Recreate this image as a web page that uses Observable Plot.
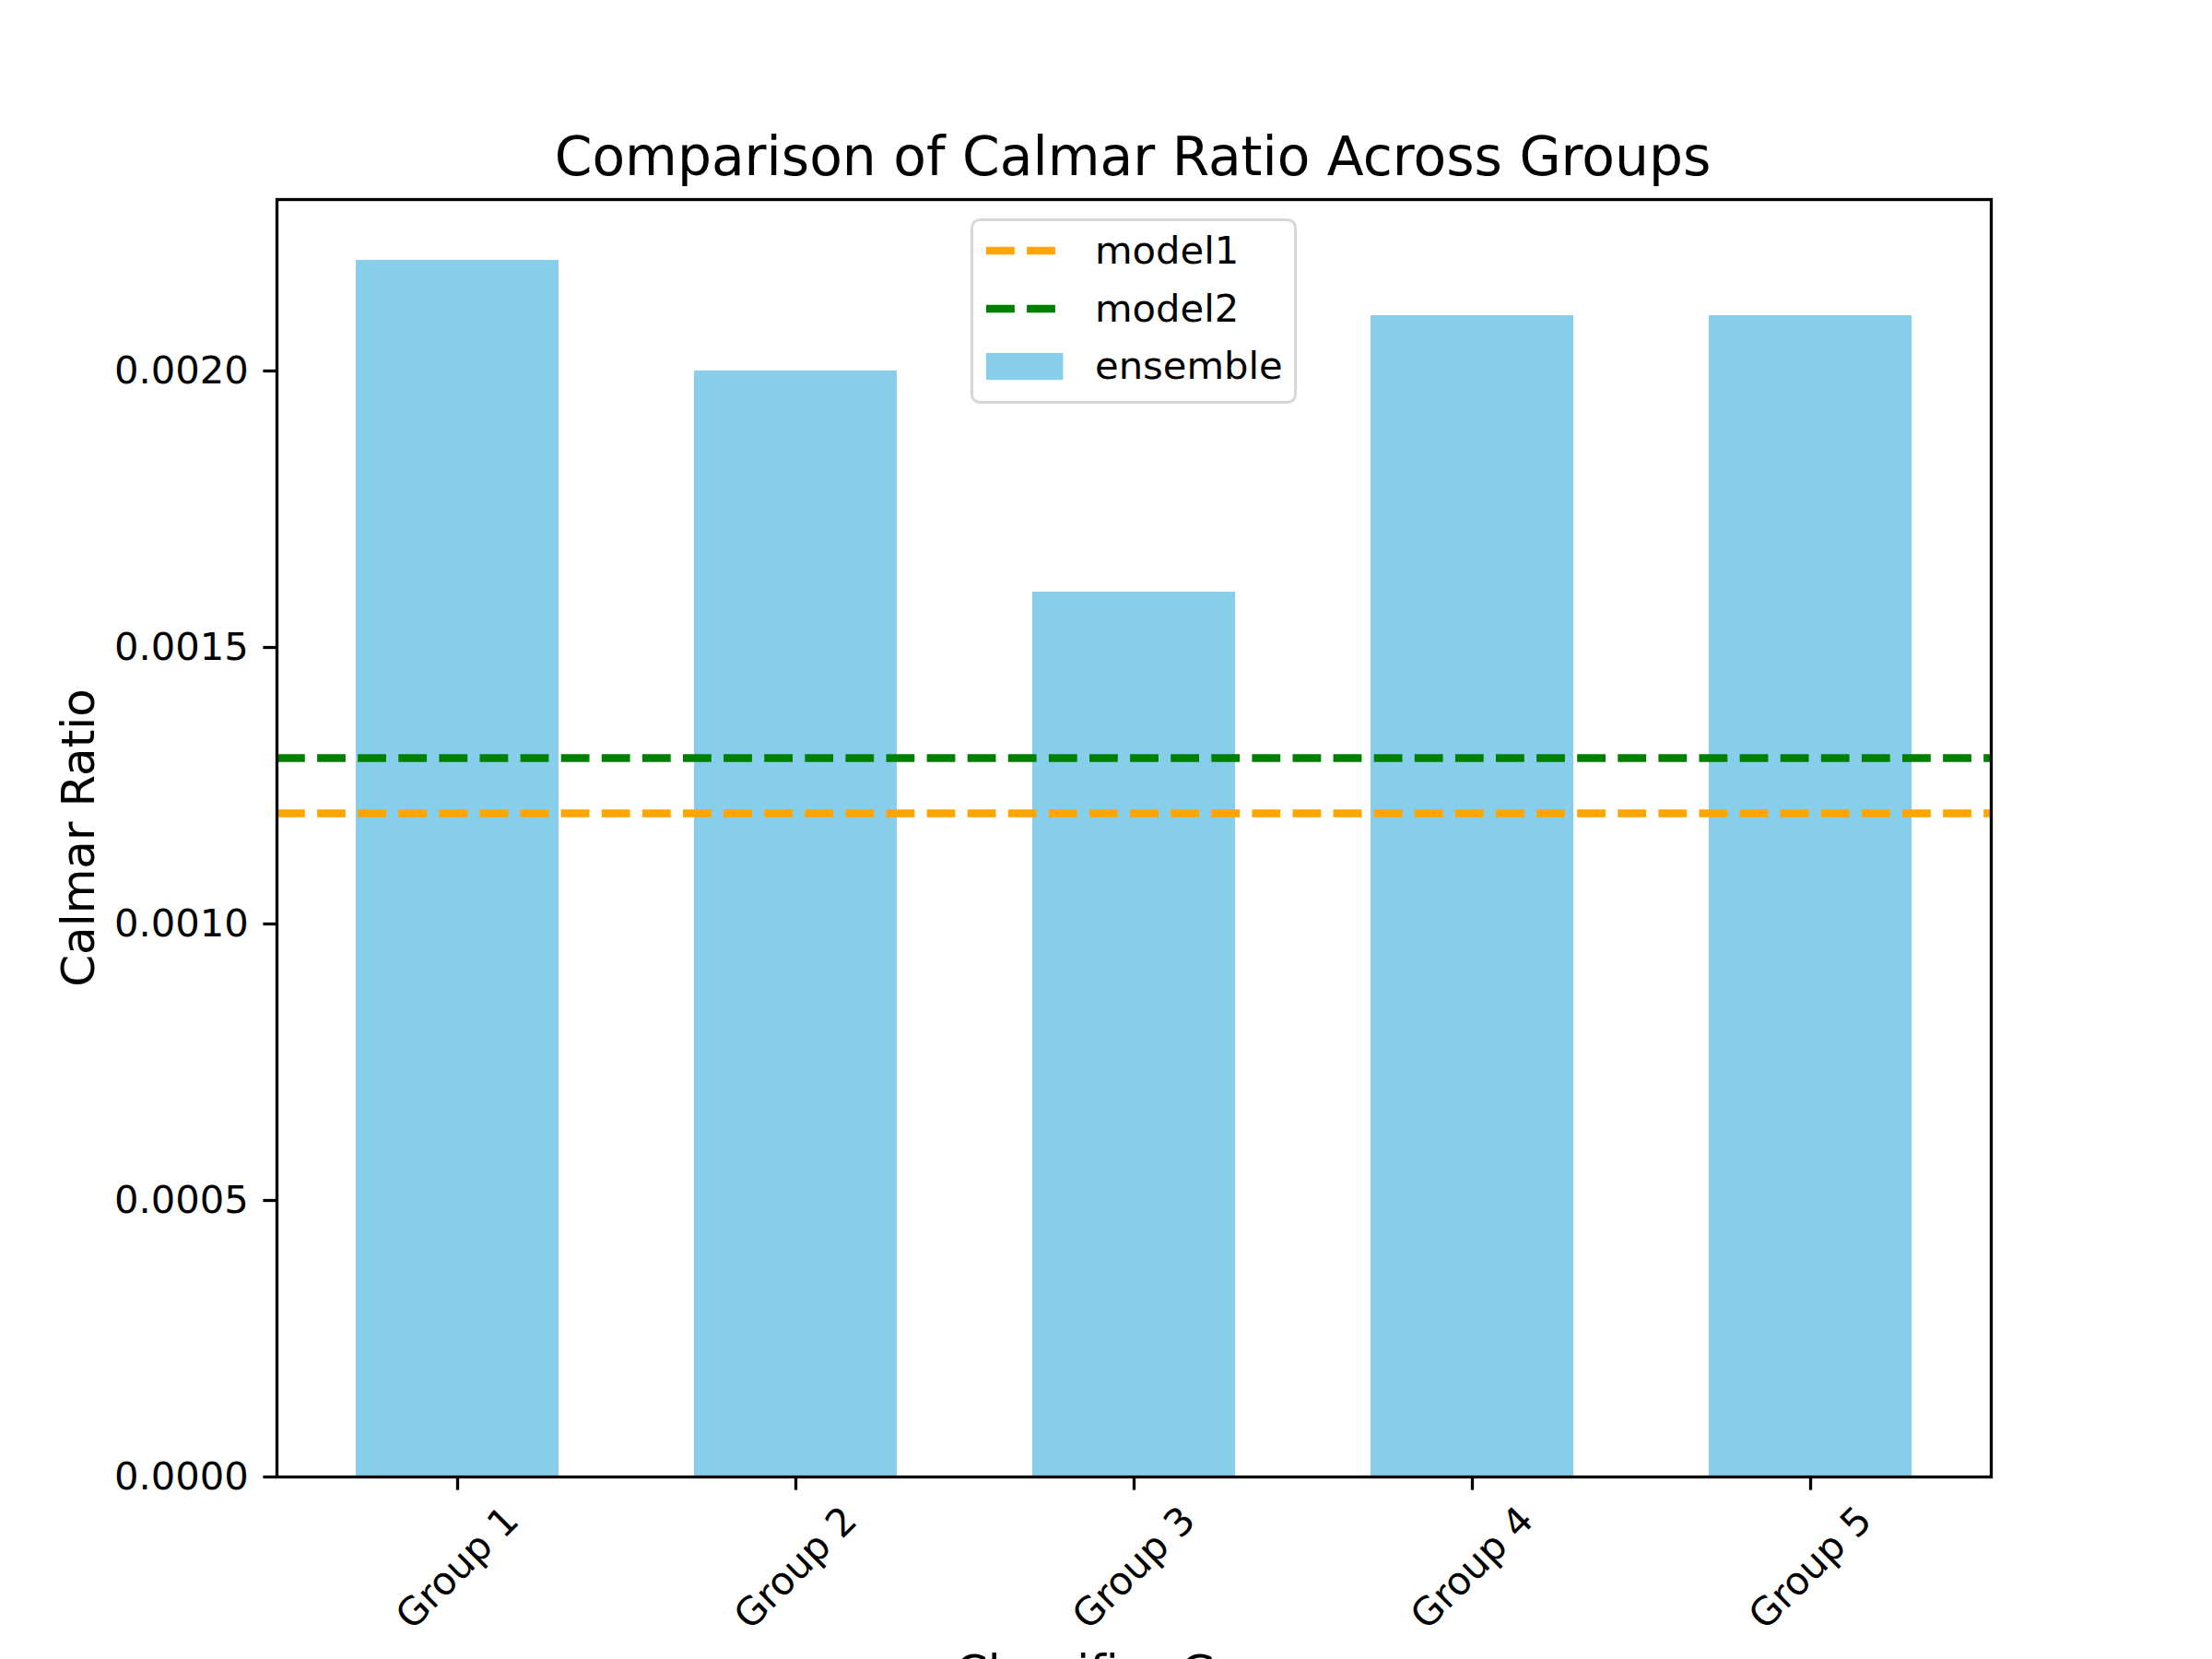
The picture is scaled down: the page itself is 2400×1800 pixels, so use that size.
<!DOCTYPE html>
<html>
<head>
<meta charset="utf-8">
<script src="https://cdn.jsdelivr.net/npm/d3@7"></script>
<script src="https://cdn.jsdelivr.net/npm/@observablehq/plot@0.6"></script>
<style>
  html, body { margin: 0; padding: 0; background: white; }
  #wrap { position: relative; width: 2400px; height: 1800px; overflow: hidden; background: white; font-family: "DejaVu Sans", sans-serif; color: black; }
  #wrap svg { position: absolute; left: 0; top: 0; }
  .lbl { position: absolute; white-space: nowrap; line-height: 1; }
</style>
</head>
<body>
<div id="wrap"></div>
<script>
// ---- data ----
const groups = ["Group 1", "Group 2", "Group 3", "Group 4", "Group 5"];
const ensemble = [0.0022, 0.0020, 0.0016, 0.0021, 0.0021];
const model1 = 0.0012;
const model2 = 0.0013;
const yTicks = [0, 0.0005, 0.0010, 0.0015, 0.0020];
const titleText = "Comparison of Calmar Ratio Across Groups";
const xLabel = "Classifier Groups";
const yLabel = "Calmar Ratio";
const legendItems = [
  {name: "model1", kind: "line", color: "#FFA500"},
  {name: "model2", kind: "line", color: "#008000"},
  {name: "ensemble", kind: "patch", color: "#87CEEB"}
];

const table = groups.map((g, i) => ({group: g, value: ensemble[i]}));
const DASH = "30.8,13.3";

const chart = Plot.plot({
  width: 2400,
  height: 1800,
  marginLeft: 300,
  marginRight: 240,
  marginTop: 216,
  marginBottom: 198,
  style: {fontFamily: "DejaVu Sans", fontSize: "41.7px", background: "white", color: "black"},
  x: {type: "band", domain: groups, paddingInner: 0.4, paddingOuter: 0.23},
  y: {domain: [0, 0.00231], nice: false},
  marks: [
    Plot.barY(table, {x: "group", y: "value", fill: "#87CEEB"}),
    Plot.ruleY([model2], {stroke: "#008000", strokeWidth: 8.3, strokeDasharray: DASH}),
    Plot.ruleY([model1], {stroke: "#FFA500", strokeWidth: 8.3, strokeDasharray: DASH}),
    Plot.axisY(yTicks, {tickSize: 14.6, tickPadding: 16, tickFormat: d3.format(".4f"), label: null, strokeWidth: 3.3, fontSize: 41.7}),
    Plot.axisX({tickSize: 14.6, tickFormat: () => "", label: null, strokeWidth: 3.3}),
    Plot.text(groups, {x: d => d, text: d => d, frameAnchor: "bottom", dy: 99, rotate: -45, textAnchor: "middle", lineAnchor: "middle", fontSize: 41.7, fill: "black"}),
    Plot.frame({stroke: "black", strokeWidth: 3.3})
  ]
});

const wrap = document.getElementById("wrap");
wrap.appendChild(chart);

function addLabel(text, size, cx, baseline) {
  const d = document.createElement("div");
  d.className = "lbl";
  d.textContent = text;
  d.style.fontSize = size + "px";
  d.style.left = cx + "px";
  d.style.top = (baseline - 0.846 * size) + "px";
  d.style.transform = "translateX(-50%)";
  wrap.appendChild(d);
  return d;
}

// title & x label
addLabel(titleText, 58.3, 1229, 190.5);
addLabel(xLabel, 50, 1248, 1831);

// y label (rotated)
const yl = document.createElement("div");
yl.className = "lbl";
yl.textContent = yLabel;
yl.style.fontSize = "50px";
yl.style.left = "85px";
yl.style.top = "909px";
yl.style.transform = "translate(-50%, -50%) rotate(-90deg)";
wrap.appendChild(yl);

// legend
const box = document.createElement("div");
box.style.position = "absolute";
box.style.left = "1053px";
box.style.top = "237px";
box.style.width = "354px";
box.style.height = "201px";
box.style.boxSizing = "border-box";
box.style.border = "3.3px solid #d6d6d6";
box.style.borderRadius = "10px";
box.style.background = "rgba(255,255,255,0.8)";
wrap.appendChild(box);

const baselines = [286.7, 349.2, 411.7];
legendItems.forEach((it, i) => {
  const b = baselines[i];
  const ns = "http://www.w3.org/2000/svg";
  const s = document.createElementNS(ns, "svg");
  s.setAttribute("width", 84);
  s.setAttribute("height", 40);
  s.style.position = "absolute";
  s.style.left = "1070px";
  s.style.top = (b - 14.7 - 20) + "px";
  if (it.kind === "line") {
    const l = document.createElementNS(ns, "line");
    l.setAttribute("x1", 0); l.setAttribute("x2", 83.4);
    l.setAttribute("y1", 20); l.setAttribute("y2", 20);
    l.setAttribute("stroke", it.color);
    l.setAttribute("stroke-width", 8.3);
    l.setAttribute("stroke-dasharray", DASH);
    s.appendChild(l);
  } else {
    const r = document.createElementNS(ns, "rect");
    r.setAttribute("x", 0); r.setAttribute("width", 83.4);
    r.setAttribute("y", 6); r.setAttribute("height", 29.2);
    r.setAttribute("fill", it.color);
    s.appendChild(r);
  }
  wrap.appendChild(s);
  const t = document.createElement("div");
  t.className = "lbl";
  t.textContent = it.name;
  t.style.fontSize = "41.7px";
  t.style.left = "1188px";
  t.style.top = (b - 0.846 * 41.7) + "px";
  wrap.appendChild(t);
});
</script>
</body>
</html>
